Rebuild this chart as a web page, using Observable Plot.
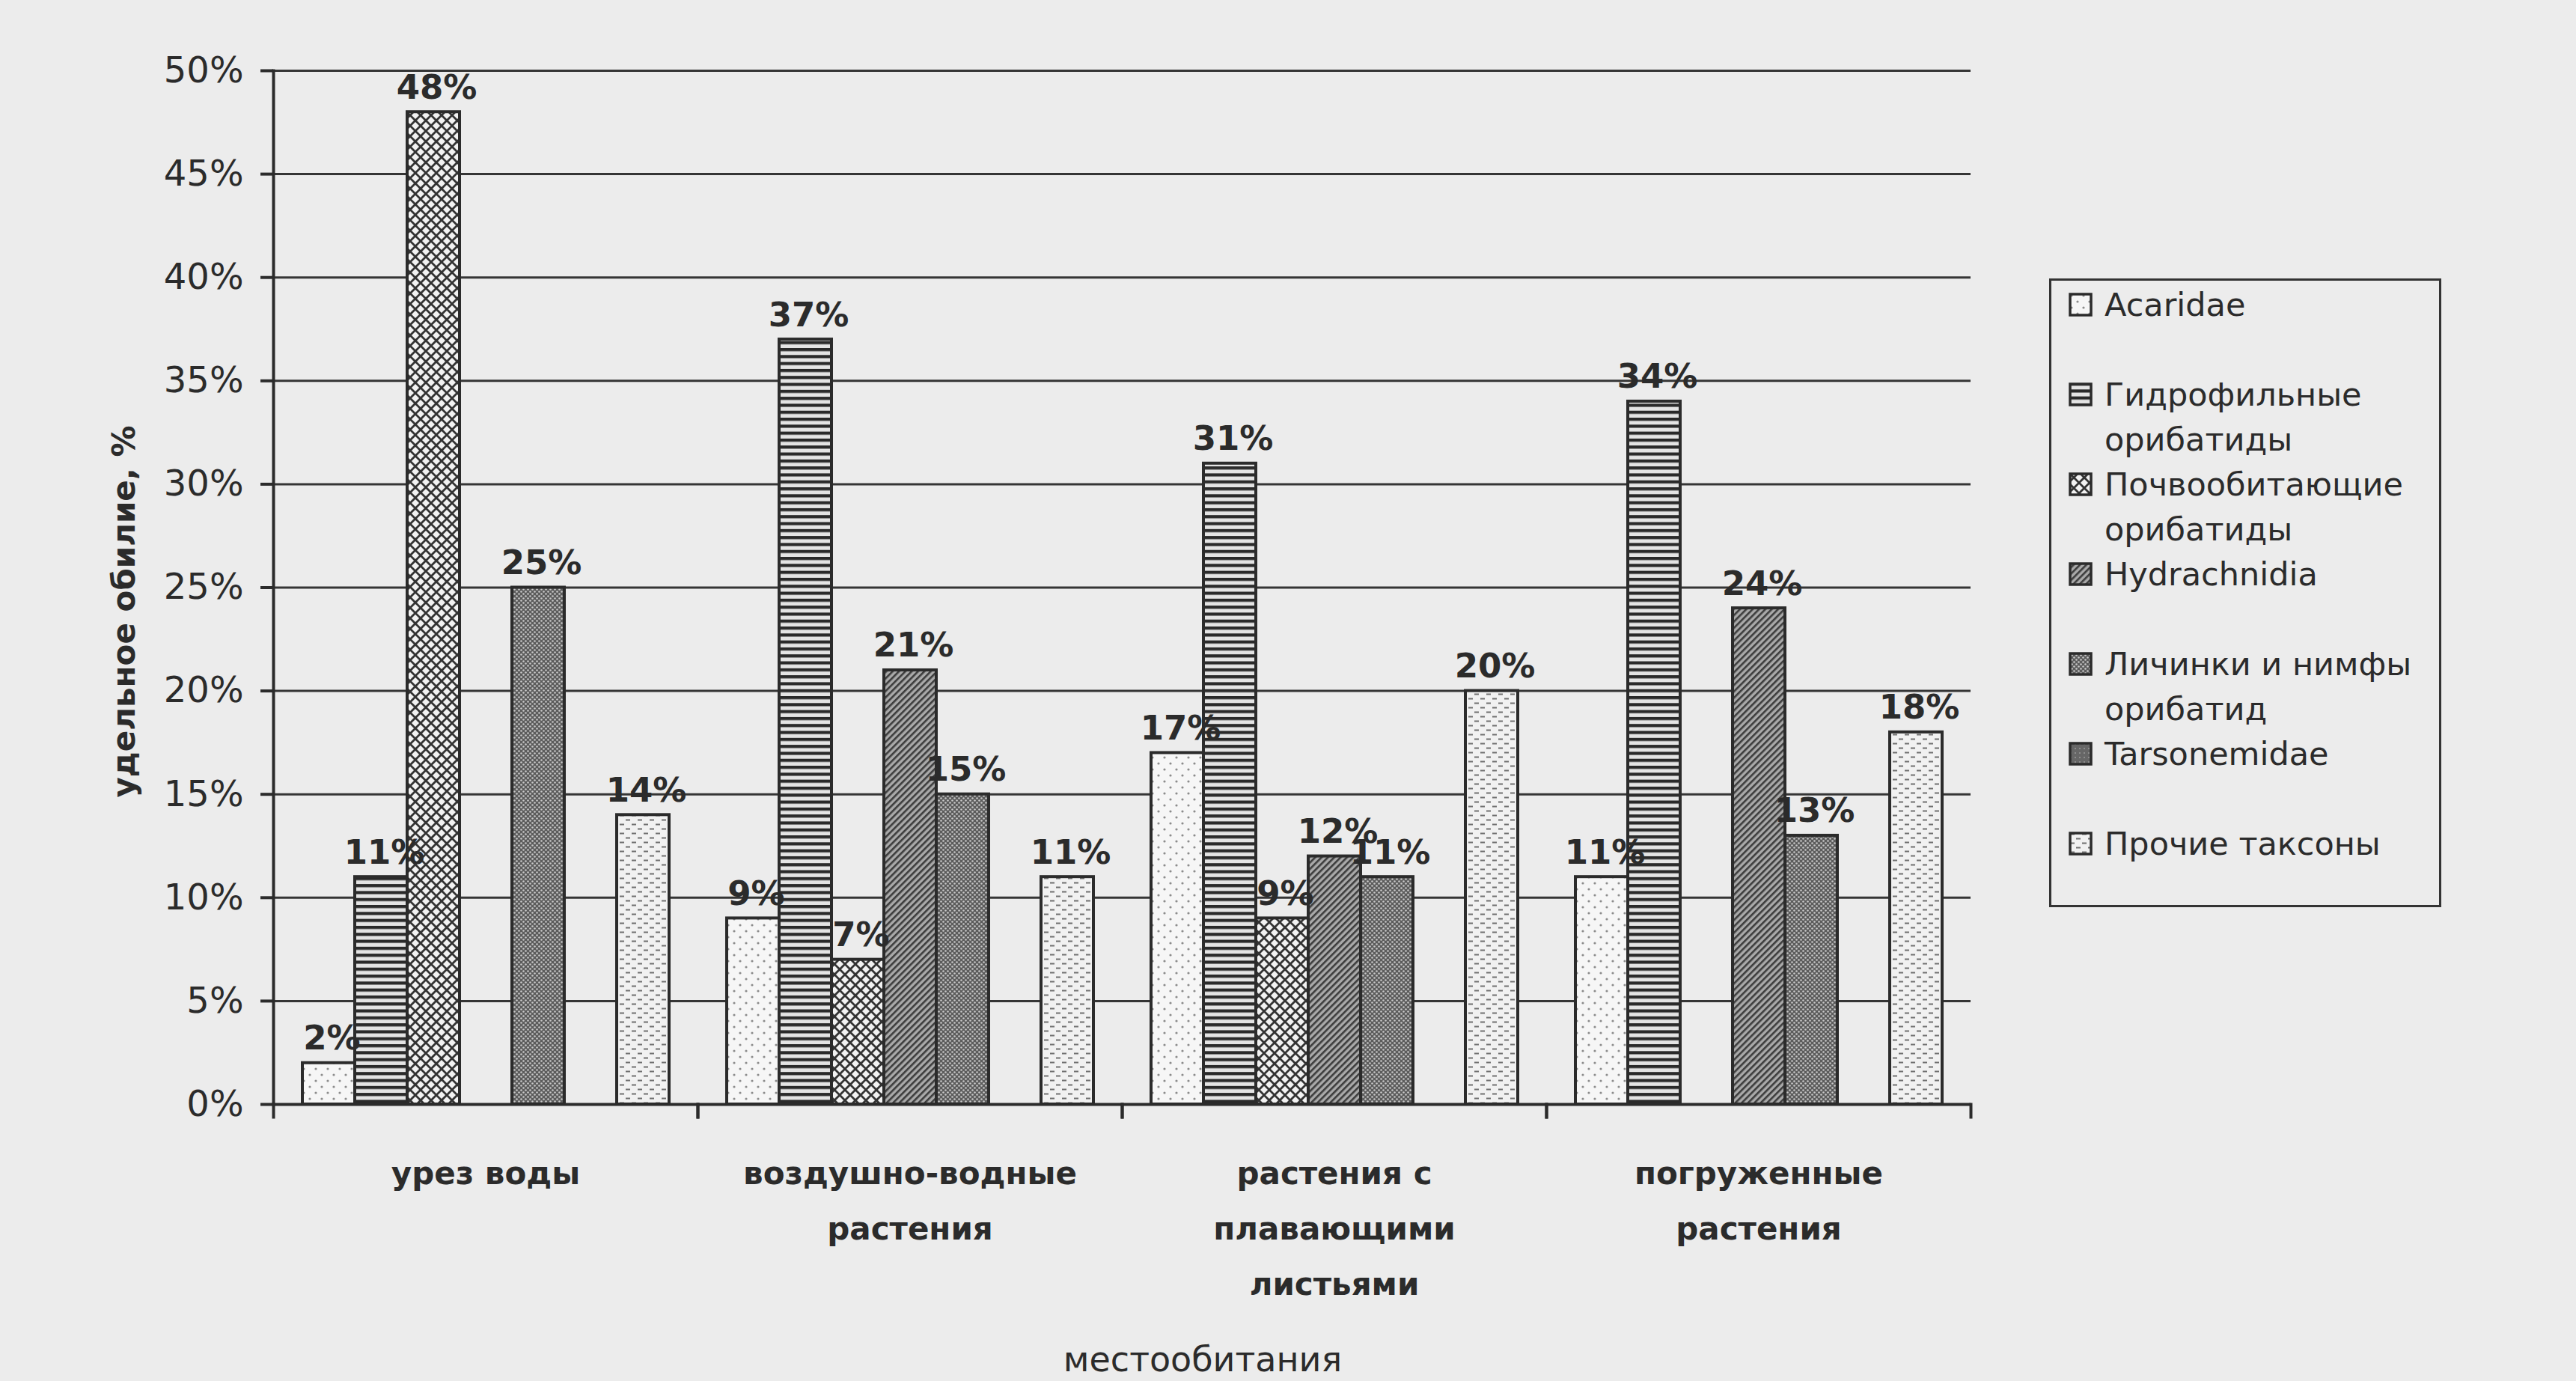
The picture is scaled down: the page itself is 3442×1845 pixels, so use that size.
<!DOCTYPE html>
<html>
<head>
<meta charset="utf-8">
<script src="https://cdn.jsdelivr.net/npm/d3@7"></script>
<script src="https://cdn.jsdelivr.net/npm/@observablehq/plot@0.6"></script>
<style>
  html, body { margin: 0; padding: 0; background: #ececec; }
  body { width: 3442px; height: 1845px; position: relative; overflow: hidden; font-family: "DejaVu Sans", sans-serif; color: #2b2b2b; }
  #chart { position: absolute; left: 0; top: 0; }
  .ytitle { position: absolute; left: 165px; top: 817px; transform: translate(-50%, -50%) rotate(-90deg); font-size: 42px; font-weight: bold; white-space: nowrap; }
  .xtitle { position: absolute; left: 1607px; top: 1816px; transform: translate(-50%, -50%); font-size: 46px; white-space: nowrap; }
  .legend { position: absolute; left: 2738px; top: 372px; width: 518px; height: 832px; border: 3px solid #333; padding-top: 2px; box-sizing: content-box; }
  .legend .row { height: 120px; position: relative; }
  .legend .sw { position: absolute; left: 23px; top: 14px; width: 32px; height: 32px; }
  .legend .lbl { position: absolute; left: 71px; top: 0; font-size: 43px; line-height: 60px; white-space: pre; }
</style>
</head>
<body>
<svg width="0" height="0" style="position:absolute">
  <defs>
    <pattern id="pat0" patternUnits="userSpaceOnUse" width="16" height="16">
      <rect width="16" height="16" fill="#f6f6f6"/>
      <circle cx="4" cy="4" r="1.6" fill="#8c8c8c"/>
      <circle cx="12" cy="12" r="1.6" fill="#8c8c8c"/>
    </pattern>
    <pattern id="pat1" patternUnits="userSpaceOnUse" width="10" height="9.3">
      <rect width="10" height="9.3" fill="#e4e4e4"/>
      <rect y="0" width="10" height="4.2" fill="#2a2a2a"/>
    </pattern>
    <pattern id="pat2" patternUnits="userSpaceOnUse" width="14" height="14">
      <rect width="14" height="14" fill="#f2f2f2"/>
      <path d="M0,0L14,14M14,0L0,14" stroke="#333" stroke-width="2.8"/>
    </pattern>
    <pattern id="pat3" patternUnits="userSpaceOnUse" width="6" height="6" patternTransform="rotate(45)">
      <rect width="6" height="6" fill="#a9a9a9"/>
      <rect x="0" width="2.6" height="6" fill="#3c3c3c"/>
    </pattern>
    <pattern id="pat4" patternUnits="userSpaceOnUse" width="6" height="6">
      <rect width="6" height="6" fill="#5c5c5c"/>
      <circle cx="1.5" cy="1.5" r="1.3" fill="#c8c8c8"/>
      <circle cx="4.5" cy="4.5" r="1.3" fill="#c8c8c8"/>
    </pattern>
    <pattern id="pat5" patternUnits="userSpaceOnUse" width="6" height="6">
      <rect width="6" height="6" fill="#666"/>
      <circle cx="3" cy="3" r="1" fill="#999"/>
    </pattern>
    <pattern id="pat6" patternUnits="userSpaceOnUse" width="16" height="12">
      <rect width="16" height="12" fill="#f1f1f1"/>
      <rect x="2" y="2.5" width="6" height="2" fill="#707070"/>
      <rect x="10" y="8.5" width="6" height="2" fill="#707070"/>
    </pattern>
  </defs>
</svg>
<div id="chart"></div>
<div class="ytitle">удельное обилие, %</div>
<div class="xtitle">местообитания</div>
<div class="legend" id="legend"></div>
<script>
// ---- data ----
const groups = ["урез воды", "воздушно-водные растения", "растения с плавающими листьями", "погруженные растения"];
const groupLabels = ["урез воды", "воздушно-водные\nрастения", "растения с\nплавающими\nлистьями", "погруженные\nрастения"];
const series = ["Acaridae", "Гидрофильные орибатиды", "Почвообитающие орибатиды", "Hydrachnidia", "Личинки и нимфы орибатид", "Tarsonemidae", "Прочие таксоны"];
const legendLabels = ["Acaridae", "Гидрофильные\nорибатиды", "Почвообитающие\nорибатиды", "Hydrachnidia", "Личинки и нимфы\nорибатид", "Tarsonemidae", "Прочие таксоны"];
const acaridae     = [2, 9, 17, 11];
const hydrophilic  = [11, 37, 31, 34];
const soilDwelling = [48, 7, 9, 0];
const hydrachnidia = [0, 21, 12, 24];
const larvae       = [25, 15, 11, 13];
const tarsonemidae = [0, 0, 0, 0];
const others       = [14, 11, 20, 18];
const yTicks = [0, 5, 10, 15, 20, 25, 30, 35, 40, 45, 50];

const seriesValues = [acaridae, hydrophilic, soilDwelling, hydrachnidia, larvae, tarsonemidae, others];
const patterns = series.map((s, i) => `url(#pat${i})`);

const rows = [];
series.forEach((s, si) => groups.forEach((g, gi) => rows.push({group: g, series: s, value: seriesValues[si][gi]})));
const nonzero = rows.filter(d => d.value > 0);

const ink = "#2b2b2b";
const plot = Plot.plot({
  width: 3442,
  height: 1845,
  marginLeft: 363,
  marginRight: 808,
  marginTop: 94,
  marginBottom: 370,
  style: {background: "transparent", fontFamily: "DejaVu Sans, sans-serif", color: ink, overflow: "visible"},
  fx: {domain: groups, padding: 0, label: null},
  x: {domain: series, paddingInner: 0, paddingOuter: 0.5, axis: null},
  y: {domain: [0, 50], label: null},
  marks: [
    Plot.gridY(yTicks, {stroke: "#353535", strokeOpacity: 1, strokeWidth: 3}),
    ...series.map((s, i) => Plot.barY(nonzero.filter(d => d.series === s), {
      fx: "group", x: "series", y: "value",
      fill: patterns[i], stroke: ink, strokeWidth: 4
    })),
    Plot.ruleY([0], {stroke: ink, strokeWidth: 4}),
    Plot.frame({anchor: "left", facetAnchor: "left", stroke: ink, strokeWidth: 4}),
    Plot.frame({anchor: "left", insetTop: 1381, insetBottom: -17, stroke: ink, strokeWidth: 4}),
    Plot.frame({anchor: "right", insetTop: 1381, insetBottom: -17, stroke: ink, strokeWidth: 4}),
    Plot.axisY(yTicks, {tickSize: 17, tickPadding: 23, fontSize: 48, tickFormat: d => d + "%", strokeWidth: 4, stroke: ink, label: null}),
    Plot.axisFx({anchor: "bottom", tickSize: 0, tickPadding: 54, fontSize: 42, fontWeight: "bold", lineHeight: 1.76,
      tickFormat: g => groupLabels[groups.indexOf(g)], label: null}),
    Plot.text(nonzero, {fx: "group", x: "series", y: "value", text: d => d.value + "%",
      lineAnchor: "bottom", dy: -18, dx: 4, fontSize: 45, fontWeight: "bold", fill: ink})
  ]
});
document.getElementById("chart").appendChild(plot);

// legend
const legend = document.getElementById("legend");
series.forEach((s, i) => {
  const row = document.createElement("div");
  row.className = "row";
  row.innerHTML = `<svg class="sw" width="32" height="32"><rect x="2" y="2" width="28" height="28" fill="${patterns[i]}" stroke="${ink}" stroke-width="3.5"/></svg><div class="lbl"></div>`;
  row.querySelector(".lbl").textContent = legendLabels[i];
  legend.appendChild(row);
});
</script>
</body>
</html>
